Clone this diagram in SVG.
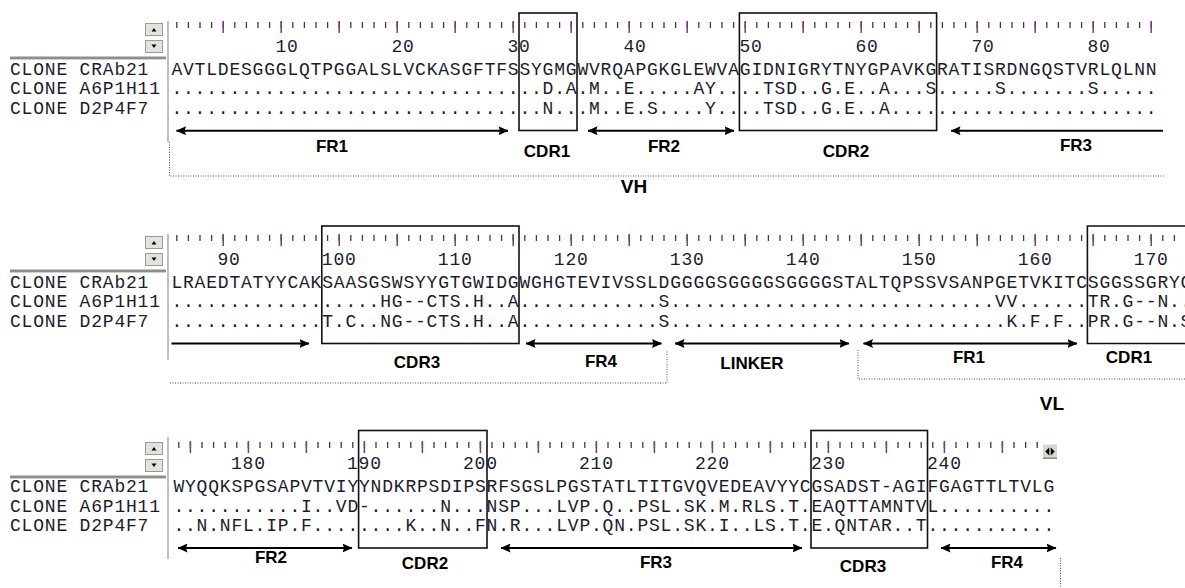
<svg xmlns="http://www.w3.org/2000/svg" width="1185" height="588" viewBox="0 0 1185 588">
<style>
.seq{font-family:"Liberation Mono","DejaVu Sans Mono",monospace;font-size:18px;letter-spacing:0.8px;fill:#1c1c2c}
.lb{font-family:"Liberation Sans",Arial,sans-serif;font-weight:bold;font-size:17px;fill:#000;text-anchor:middle}
.big{font-size:19px}
.tk{fill:none;stroke:#3c3c3c;stroke-width:6;stroke-dasharray:1.3 10.3}
.tt{fill:none;stroke:#7a3a80;stroke-width:12;stroke-dasharray:1.5 56.5}
.box{fill:none;stroke:#111;stroke-width:1.6}
.arr{fill:none;stroke:#000;stroke-width:2}
.dot{fill:none;stroke:#555;stroke-width:1;stroke-dasharray:1 1.5}
.sep{stroke:#a8a8a8;stroke-width:1.5}
.btn{fill:#e4e2dc;stroke:#9c9a94;stroke-width:1}
</style>
<defs>
<marker id="ah" viewBox="0 0 10 9" refX="9.5" refY="4.5" markerWidth="10" markerHeight="9" markerUnits="userSpaceOnUse" orient="auto-start-reverse">
<path d="M0,0 L10,4.5 L0,9 L1.5,4.5 z" fill="#000"/>
</marker>
<g id="hdr">
<rect class="btn" x="145.5" y="23.5" width="17" height="12"/>
<path d="M151.5,31.5 L154,28 L156.5,31.5 z" fill="#000"/>
<rect class="btn" x="145.5" y="40.5" width="17" height="12"/>
<path d="M151.5,44.5 L154,48 L156.5,44.5 z" fill="#000"/>
<rect x="10" y="56.5" width="156" height="2.5" fill="#8e8e8e"/>
<rect x="10" y="59" width="156" height="1" fill="#cfcfcf"/>
</g>
</defs>
<rect width="1185" height="588" fill="#fff"/>

<!-- Panel 1 : positions 1-85 -->
<g id="panel1">
<use href="#hdr"/>
<line class="sep" x1="168" y1="21" x2="168" y2="142"/>
<path class="tk" d="M176.15,25 H1152"/>
<path class="tt" d="M222.45,27 H1152"/>
<g class="seq">
<text x="275.4" y="51.5">10</text><text x="391.4" y="51.5">20</text><text x="507.4" y="51.5">30</text><text x="623.4" y="51.5">40</text>
<text x="739.4" y="51.5">50</text><text x="855.4" y="51.5">60</text><text x="971.4" y="51.5">70</text><text x="1087.4" y="51.5">80</text>
<text x="10" y="74.5">CLONE CRAb21</text>
<text x="10" y="94.2">CLONE A6P1H11</text>
<text x="10" y="113.9">CLONE D2P4F7</text>
<text y="74.5"><tspan x="171.4">AVTLDESGGGLQTPGGALSLVCKASGFTFS</tspan><tspan x="519.4">SYGMG</tspan><tspan x="577.4">WVRQAPGKGLEWVA</tspan><tspan x="739.8">GIDNIGRYTNYGPAVKG</tspan><tspan x="937">RATISRDNGQSTVRLQLNN</tspan></text>
<text y="94.2"><tspan x="171.4">..............................</tspan><tspan x="519.4">..D.A</tspan><tspan x="577.4">.M..E.....AY..</tspan><tspan x="739.8">..TSD..G.E..A...S</tspan><tspan x="937">.....S.......S.....</tspan></text>
<text y="113.9"><tspan x="171.4">..............................</tspan><tspan x="519.4">..N..</tspan><tspan x="577.4">.M..E.S....Y..</tspan><tspan x="739.8">..TSD..G.E..A....</tspan><tspan x="937">...................</tspan></text>
</g>
</g>

<g id="vh-cdr1"><rect class="box" x="519" y="13" width="58" height="117.5"/><text class="lb" x="547" y="157">CDR1</text></g>
<g id="vh-cdr2"><rect class="box" x="739.4" y="13" width="197.2" height="117.5"/><text class="lb" x="846" y="157">CDR2</text></g>
<g id="vh-fr1"><text class="lb" x="332" y="151.5">FR1</text></g>
<g id="vh-fr2"><text class="lb" x="664" y="151.5">FR2</text></g>
<g id="vh-fr3"><text class="lb" x="1076" y="150.5">FR3</text></g>
<g id="vh"><text class="lb big" x="634" y="193">VH</text></g>

<!-- Panel 2 : positions 86-173 -->
<g id="panel2">
<use href="#hdr" y="213"/>
<line class="sep" x1="168" y1="234" x2="168" y2="360"/>
<path class="tk" d="M176.15,238 H1185"/>
<path class="tt" d="M222.45,240 H1185"/>
<g class="seq">
<text x="217.4" y="264.5">90</text><text x="321.8" y="264.5">100</text><text x="437.8" y="264.5">110</text><text x="553.8" y="264.5">120</text>
<text x="669.8" y="264.5">130</text><text x="785.8" y="264.5">140</text><text x="901.8" y="264.5">150</text><text x="1017.8" y="264.5">160</text><text x="1133.8" y="264.5">170</text>
<text x="10" y="287.5">CLONE CRAb21</text>
<text x="10" y="307.2">CLONE A6P1H11</text>
<text x="10" y="326.9">CLONE D2P4F7</text>
<text y="287.5"><tspan x="171.4">LRAEDTATYYCAK</tspan><tspan x="322.2">SAASGSWSYYGTGWIDG</tspan><tspan x="519.4">WGHGTEVIVSSLD</tspan><tspan x="670.2">GGGGSGGGGSGGGGS</tspan><tspan x="844.2">TALTQPSSVSANPGETVKITC</tspan><tspan x="1087.8">SGGSSGRYG</tspan></text>
<text y="307.2"><tspan x="171.4">.............</tspan><tspan x="322.2">.....HG--CTS.H..A</tspan><tspan x="519.4">............S</tspan><tspan x="670.2">...............</tspan><tspan x="844.2">.............VV......</tspan><tspan x="1087.8">TR.G--N..</tspan></text>
<text y="326.9"><tspan x="171.4">.............</tspan><tspan x="322.2">T.C..NG--CTS.H..A</tspan><tspan x="519.4">............S</tspan><tspan x="670.2">...............</tspan><tspan x="844.2">..............K.F.F..</tspan><tspan x="1087.8">PR.G--N.S</tspan></text>
</g>
</g>

<g id="vh-cdr3"><rect class="box" x="321.8" y="226" width="197.2" height="117.5"/><text class="lb" x="417" y="368">CDR3</text></g>
<g id="vh-fr4"><text class="lb" x="601" y="367">FR4</text></g>
<g id="linker"><text class="lb" x="752" y="369">LINKER</text></g>
<g id="vl-fr1"><text class="lb" x="969" y="363">FR1</text></g>
<g id="vl-cdr1"><path class="box" d="M1186,226 H1087.4 V343.5 H1186"/><text class="lb" x="1129" y="363">CDR1</text></g>
<g id="vl"><text class="lb big" x="1052" y="410">VL</text></g>

<!-- Panel 3 : positions 174-249 -->
<g id="panel3">
<use href="#hdr" y="419"/>
<line class="sep" x1="168" y1="437" x2="168" y2="559"/>
<path class="tk" d="M178.15,445 H1037.85"/>
<path class="tt" d="M189.65,447 H1003.15"/>
<g id="scroll-lr">
<rect x="1043" y="444.5" width="14" height="14" fill="#d8d5cf"/>
<rect x="1043" y="457.5" width="14" height="1.5" fill="#8a8a8a"/>
<path d="M1049.3,447.5 L1045.3,451.5 L1049.3,455.5 z M1050.7,447.5 L1054.7,451.5 L1050.7,455.5 z" fill="#000"/>
</g>
<g class="seq">
<text x="231" y="469">180</text><text x="347" y="469">190</text><text x="463" y="469">200</text><text x="579" y="469">210</text>
<text x="695" y="469">220</text><text x="811" y="469">230</text><text x="927" y="469">240</text>
<text x="10" y="492">CLONE CRAb21</text>
<text x="10" y="511.7">CLONE A6P1H11</text>
<text x="10" y="531.4">CLONE D2P4F7</text>
<text y="492"><tspan x="173.4">WYQQKSPGSAPVTVIY</tspan><tspan x="359">YNDKRPSDIPS</tspan><tspan x="486.6">RFSGSLPGSTATLTITGVQVEDEAVYYC</tspan><tspan x="811.4">GSADST-AGI</tspan><tspan x="927.4">FGAGTTLTVLG</tspan></text>
<text y="511.7"><tspan x="173.4">...........I..VD</tspan><tspan x="359">-......N...</tspan><tspan x="486.6">NSP...LVP.Q..PSL.SK.M.RLS.T.</tspan><tspan x="811.4">EAQTTAMNTV</tspan><tspan x="927.4">L..........</tspan></text>
<text y="531.4"><tspan x="173.4">..N.NFL.IP.F....</tspan><tspan x="359">....K..N..F</tspan><tspan x="486.6">N.R...LVP.QN.PSL.SK.I..LS.T.</tspan><tspan x="811.4">E.QNTAR..T</tspan><tspan x="927.4">...........</tspan></text>
</g>
</g>

<g id="vl-cdr2"><rect class="box" x="358.6" y="430.5" width="128.4" height="117.5"/><text class="lb" x="425" y="569">CDR2</text></g>
<g id="vl-cdr3"><rect class="box" x="811" y="430.5" width="116.5" height="117.5"/><text class="lb" x="863" y="572">CDR3</text></g>
<g id="vl-fr2"><text class="lb" x="271" y="563">FR2</text></g>
<g id="vl-fr3"><text class="lb" x="656" y="568">FR3</text></g>
<g id="vl-fr4"><text class="lb" x="1007" y="568">FR4</text></g>

<g id="connectors">
<path class="arr" d="M176.5,130.7 H508" marker-start="url(#ah)" marker-end="url(#ah)"/>
<path class="arr" d="M588,130.7 H734" marker-start="url(#ah)" marker-end="url(#ah)"/>
<path class="arr" d="M951,130.7 H1163" marker-start="url(#ah)"/>
<path class="arr" d="M171.5,343.5 H309" marker-end="url(#ah)"/>
<path class="arr" d="M526,343.5 H661.5" marker-start="url(#ah)" marker-end="url(#ah)"/>
<path class="arr" d="M675,343.5 H849" marker-start="url(#ah)" marker-end="url(#ah)"/>
<path class="arr" d="M863.5,343.5 H1077" marker-start="url(#ah)" marker-end="url(#ah)"/>
<path class="arr" d="M178,548 H352" marker-start="url(#ah)" marker-end="url(#ah)"/>
<path class="arr" d="M501,548 H802" marker-start="url(#ah)" marker-end="url(#ah)"/>
<path class="arr" d="M941,548 H1056" marker-start="url(#ah)" marker-end="url(#ah)"/>
<path class="dot" d="M169.5,142 V176 H1165"/>
<path class="dot" d="M170,383 H667 V350"/>
<path class="dot" d="M858,350 V379 H1185"/>
<path class="dot" d="M1060.5,558 V588"/>
</g>
</svg>
